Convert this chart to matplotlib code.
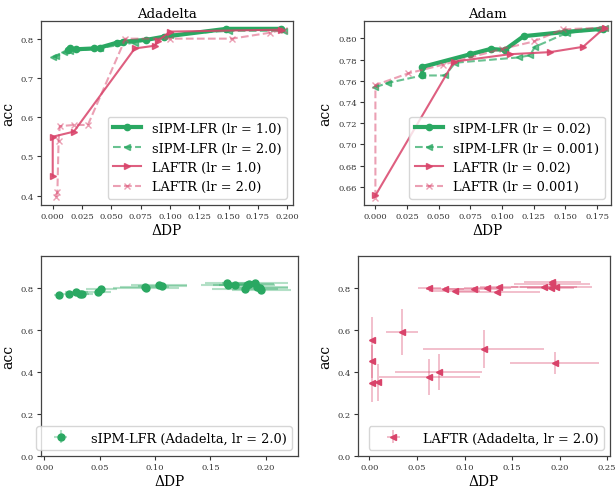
import numpy as np
import matplotlib
matplotlib.use('Agg')
import matplotlib.pyplot as plt

plt.rcParams['font.family'] = 'DejaVu Serif'

GREEN = '#2aa862'
RED = '#d9436a'

# ---- Adadelta (top left) ----
ada_s1_x = [0.013, 0.015, 0.020, 0.035, 0.040, 0.055, 0.060, 0.080, 0.095, 0.148, 0.195]
ada_s1_y = [0.770, 0.775, 0.773, 0.775, 0.777, 0.790, 0.792, 0.797, 0.805, 0.825, 0.825]
ada_s2_x = [0.000, 0.003, 0.010, 0.015, 0.040, 0.070, 0.100, 0.150, 0.197]
ada_s2_y = [0.753, 0.755, 0.765, 0.768, 0.776, 0.790, 0.810, 0.820, 0.820]
ada_l1_x = [0.000, 0.000, 0.018, 0.070, 0.087, 0.090, 0.100, 0.195]
ada_l1_y = [0.450, 0.550, 0.563, 0.775, 0.782, 0.795, 0.818, 0.823]
ada_l2_x = [0.003, 0.004, 0.005, 0.006, 0.018, 0.030, 0.062, 0.100, 0.153, 0.185, 0.197]
ada_l2_y = [0.396, 0.410, 0.540, 0.577, 0.580, 0.580, 0.800, 0.800, 0.800, 0.815, 0.823]

# ---- Adam (top right) ----
adam_s1_x = [0.037, 0.037, 0.075, 0.091, 0.102, 0.117, 0.150, 0.180]
adam_s1_y = [0.765, 0.773, 0.785, 0.790, 0.789, 0.802, 0.806, 0.809]
adam_s2_x = [0.000, 0.010, 0.037, 0.055, 0.063, 0.113, 0.122, 0.126, 0.151, 0.175, 0.181]
adam_s2_y = [0.754, 0.758, 0.765, 0.765, 0.777, 0.782, 0.784, 0.792, 0.805, 0.8085, 0.810]
adam_l1_x = [0.000, 0.062, 0.106, 0.138, 0.164, 0.181]
adam_l1_y = [0.652, 0.778, 0.785, 0.787, 0.792, 0.810]
adam_l2_x = [0.000, 0.000, 0.026, 0.053, 0.100, 0.125, 0.148, 0.181]
adam_l2_y = [0.650, 0.756, 0.767, 0.775, 0.790, 0.797, 0.8085, 0.810]

# ---- sIPM-LFR scatter (bottom left) ----
sipm_x = [0.013, 0.022, 0.029, 0.032, 0.034, 0.0485, 0.0515, 0.0905, 0.092, 0.1035, 0.1065,
          0.165, 0.166, 0.172, 0.181, 0.183, 0.185, 0.190, 0.192, 0.195, 0.196]
sipm_y = [0.765, 0.773, 0.781, 0.770, 0.772, 0.781, 0.793, 0.805, 0.802, 0.816, 0.810,
          0.825, 0.815, 0.812, 0.797, 0.816, 0.820, 0.825, 0.805, 0.800, 0.789]
sipm_xerr = [0.004, 0.005, 0.010, 0.008, 0.010, 0.012, 0.014, 0.022, 0.030, 0.025, 0.022,
             0.020, 0.025, 0.020, 0.030, 0.025, 0.022, 0.030, 0.028, 0.025, 0.027]
sipm_yerr = [0.008, 0.006, 0.008, 0.007, 0.006, 0.008, 0.008, 0.008, 0.007, 0.007, 0.008,
             0.010, 0.009, 0.008, 0.010, 0.010, 0.009, 0.010, 0.009, 0.008, 0.010]

# ---- LAFTR scatter (bottom right) ----
laftr_x = [0.0025, 0.0025, 0.0025, 0.0094, 0.034, 0.063, 0.0727, 0.120, 0.1947,
           0.063, 0.0794, 0.0898, 0.110, 0.124, 0.136, 0.1346, 0.1835, 0.192, 0.1925, 0.1905, 0.196]
laftr_y = [0.550, 0.450, 0.348, 0.350, 0.590, 0.376, 0.400, 0.508, 0.443,
           0.800, 0.797, 0.784, 0.797, 0.800, 0.803, 0.779, 0.803, 0.818, 0.826, 0.800, 0.803]
laftr_xerr = [0.002, 0.002, 0.002, 0.002, 0.017, 0.053, 0.046, 0.064, 0.047,
              0.012, 0.020, 0.027, 0.030, 0.025, 0.020, 0.045, 0.035, 0.040, 0.030, 0.025, 0.038]
laftr_yerr = [0.110, 0.080, 0.090, 0.090, 0.110, 0.088, 0.085, 0.090, 0.054,
              0.008, 0.008, 0.008, 0.008, 0.008, 0.010, 0.008, 0.010, 0.010, 0.012, 0.010, 0.010]

fig = plt.figure(figsize=(6.15, 4.89), dpi=100)
W, H = 615.0, 489.0


def box(l, r, t, b):
    return [l / W, 1 - b / H, (r - l) / W, (b - t) / H]


def style(ax):
    ax.tick_params(labelsize=6, length=3, pad=2, colors='#333333')
    for s in ax.spines.values():
        s.set_color('#444444')
        s.set_linewidth(0.9)
    ax.set_xlabel('ΔDP', fontsize=10, labelpad=2)
    ax.set_ylabel('acc', fontsize=10, labelpad=4)


ax1 = fig.add_axes(box(41, 293, 22, 206))
ax1.plot(ada_s1_x, ada_s1_y, '-o', color=GREEN, lw=3, ms=4.5, label='sIPM-LFR (lr = 1.0)')
ax1.plot(ada_s2_x, ada_s2_y, '--<', color=GREEN, lw=1.5, ms=4.5, alpha=0.7, label='sIPM-LFR (lr = 2.0)')
ax1.plot(ada_l1_x, ada_l1_y, '->', color=RED, lw=1.5, ms=4.5, alpha=0.85, label='LAFTR (lr = 1.0)')
ax1.plot(ada_l2_x, ada_l2_y, '--x', color=RED, lw=1.5, ms=4.5, alpha=0.5, label='LAFTR (lr = 2.0)')
ax1.set_xlim(-0.010, 0.205)
ax1.set_ylim(0.376, 0.845)
ax1.set_xticks(np.arange(0, 0.201, 0.025))
ax1.set_yticks([0.4, 0.5, 0.6, 0.7, 0.8])
ax1.set_title('Adadelta', fontsize=9.5, pad=3)
style(ax1)
ax1.legend(loc='lower right', fontsize=9.3, handlelength=2.2)

ax2 = fig.add_axes(box(364, 611, 22, 206))
ax2.plot(adam_s1_x, adam_s1_y, '-o', color=GREEN, lw=3, ms=4.5, label='sIPM-LFR (lr = 0.02)')
ax2.plot(adam_s2_x, adam_s2_y, '--<', color=GREEN, lw=1.5, ms=4.5, alpha=0.7, label='sIPM-LFR (lr = 0.001)')
ax2.plot(adam_l1_x, adam_l1_y, '->', color=RED, lw=1.5, ms=4.5, alpha=0.85, label='LAFTR (lr = 0.02)')
ax2.plot(adam_l2_x, adam_l2_y, '--x', color=RED, lw=1.5, ms=4.5, alpha=0.5, label='LAFTR (lr = 0.001)')
ax2.set_xlim(-0.009, 0.186)
ax2.set_ylim(0.643, 0.8163)
ax2.set_xticks(np.arange(0, 0.176, 0.025))
ax2.set_yticks(np.arange(0.66, 0.801, 0.02))
ax2.set_title('Adam', fontsize=9.5, pad=3)
style(ax2)
ax2.legend(loc='lower right', fontsize=9.3, handlelength=2.2)

ax3 = fig.add_axes(box(41, 298, 257, 457))
ax3.errorbar(sipm_x, sipm_y, xerr=sipm_xerr, yerr=sipm_yerr, fmt='o', color=GREEN, ms=5,
             ecolor=(0.16, 0.66, 0.38, 0.35), elinewidth=1.5, label='sIPM-LFR (Adadelta, lr = 2.0)')
ax3.set_xlim(-0.003, 0.229)
ax3.set_ylim(0, 0.952)
ax3.set_xticks([0, 0.05, 0.10, 0.15, 0.20])
ax3.set_xticklabels(['0.00', '0.05', '0.10', '0.15', '0.20'])
ax3.set_yticks([0, 0.2, 0.4, 0.6, 0.8])
style(ax3)
ax3.legend(loc='lower right', fontsize=9.3, handlelength=3)

ax4 = fig.add_axes(box(358, 610, 257, 457))
ax4.errorbar(laftr_x, laftr_y, xerr=laftr_xerr, yerr=laftr_yerr, fmt='<', color=RED, ms=5,
             ecolor=(0.85, 0.26, 0.42, 0.4), elinewidth=1.2, label='LAFTR (Adadelta, lr = 2.0)')
ax4.set_xlim(-0.012, 0.253)
ax4.set_ylim(0, 0.952)
ax4.set_xticks([0, 0.05, 0.10, 0.15, 0.20, 0.25])
ax4.set_xticklabels(['0.00', '0.05', '0.10', '0.15', '0.20', '0.25'])
ax4.set_yticks([0, 0.2, 0.4, 0.6, 0.8])
style(ax4)
ax4.legend(loc='lower right', fontsize=9.3, handlelength=3)

fig.savefig('out.png', dpi=100)
